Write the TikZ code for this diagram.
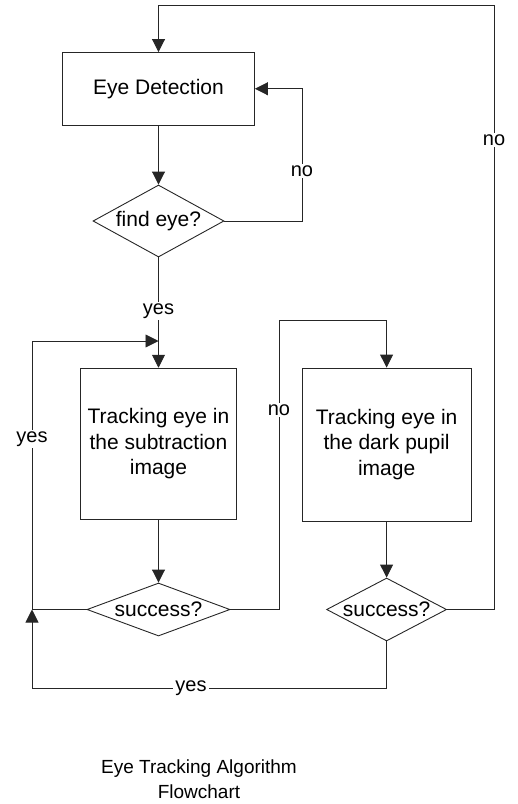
\documentclass[tikz,border=0pt]{standalone}
\usepackage{fontspec}
\setmainfont{Liberation Sans}
\usetikzlibrary{shapes.geometric,arrows.meta}
\begin{document}
\begin{tikzpicture}[x=1pt,y=-1pt,
  line/.style={line width=0.9pt,draw=black!85},
  arr/.style={line/.try,-{Triangle[length=13pt,width=13pt]}},
  procbox/.style={draw=black!85,line width=0.9pt,rectangle,inner sep=0pt,align=center,
     font=\fontsize{21}{25.5}\selectfont},
  decision/.style={draw=black!85,line width=0.9pt,diamond,inner sep=0pt,
     font=\fontsize{21}{25.5}\selectfont},
  lbl/.style={fill=white,inner sep=2pt,font=\fontsize{20}{24}\selectfont}]
\useasboundingbox (0,0) rectangle (518,804);
\node[procbox,minimum width=192pt,minimum height=72.5pt] (ed) at (158.5,88.75) {Eye Detection};
\node[decision,aspect=1.82,minimum width=131pt,minimum height=72pt] (find) at (158.5,221) {find eye?};
\node[procbox,minimum width=156pt,minimum height=151pt] (lt) at (158.5,443.7) {Tracking eye in\\the subtraction\\image};
\node[decision,aspect=2.7,minimum width=143pt,minimum height=53pt] (s1) at (158.5,609.5) {success?};
\node[procbox,minimum width=169pt,minimum height=153pt] (rt) at (386.6,444.5) {Tracking eye in\\the dark pupil\\image};
\node[decision,aspect=1.9,minimum width=120pt,minimum height=63pt] (s2) at (386.6,609.5) {success?};
\node[align=center,font=\fontsize{19}{25}\selectfont] (cap) at (199,779.5) {Eye Tracking Algorithm\\Flowchart};
\coordinate (top1) at (494,5);
\coordinate (top0) at (158.5,5);
\coordinate (fr) at (302,221);
\coordinate (fe) at (302,88.75);
\coordinate (ljoin) at (32,609.5);
\coordinate (ltop) at (32,341);
\coordinate (lin) at (158.5,341);
\coordinate (mr) at (279,609.5);
\coordinate (mt) at (279,320);
\coordinate (mt2) at (386.6,320);
\coordinate (rr) at (494,609.5);
\coordinate (bb) at (386.6,688);
\coordinate (bl) at (32,688);
% connectors
\draw[arr] (ed) -- (find);
\draw[arr] (fr -| find.east) -- (fr) -- (fe) -- (ed.east);
\draw[arr] (find.south) -- (lt.north);
\draw[arr] (lt) -- (s1);
\draw[arr] (s1.west) -- (ljoin) -- (ltop) -- (lin);
\draw[arr] (s1.east) -- (mr) -- (mt) -- (mt2) -- (rt.north);
\draw[arr] (rt) -- (s2);
\draw[arr] (s2.east) -- (rr) -- (top1) -- (top0) -- (ed.north);
\draw[arr] (s2.south) -- (bb) -- (bl) -- (ljoin);
% labels
\node[lbl] (l1) at (302,171) {no};
\node[lbl] (l2) at (494,140) {no};
\node[lbl] (l3) at (158.5,311) {yes};
\node[lbl] (l4) at (279,410) {no};
\node[lbl] (l5) at (32,439) {yes};
\node[lbl] (l6) at (191,688) {yes};
\end{tikzpicture}
\end{document}
